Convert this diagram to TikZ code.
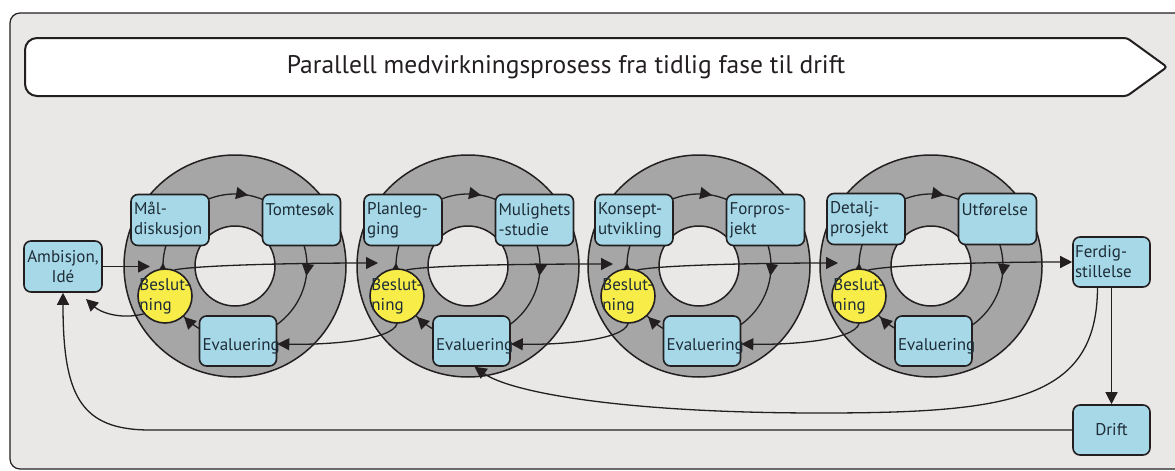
\documentclass[tikz,border=0pt]{standalone}
\usepackage{fontspec}
\setmainfont{PT Sans}
\usetikzlibrary{arrows.meta,decorations.markings,calc}
\definecolor{bg}{RGB}{233,232,231}
\definecolor{ringgray}{RGB}{166,166,166}
\definecolor{boxblue}{RGB}{166,216,232}
\definecolor{besyellow}{RGB}{247,236,72}
\definecolor{ink}{RGB}{35,31,32}
\definecolor{txt}{RGB}{30,45,55}
\newcommand\lblfont{\fontsize{17}{20}\selectfont}
\newcommand\titlefont{\fontsize{25.5}{30}\selectfont}
\begin{document}
\begin{tikzpicture}[x=1pt,y=1pt,
  tipA/.tip={Triangle[length=12pt,width=12pt]},
  box/.style={draw=ink, line width=1.6pt, fill=boxblue, rounded corners=7pt,
    minimum width=78pt, minimum height=51pt, inner xsep=3pt, inner ysep=0pt,
    text width=72pt, align=left, font=\lblfont, text=txt},
  cbox/.style={box, align=center},
  evalbox/.style={box, align=center, minimum width=77pt, text width=71pt,
    minimum height=50pt, text height=18pt, text depth=0pt},
  bes/.style={circle, draw=ink, line width=1.6pt, fill=besyellow,
    minimum size=54pt, inner sep=0pt},
  bestext/.style={font=\lblfont, text=txt, align=left, inner sep=0pt},
  arr/.style={draw=ink, line width=1.3pt, -{tipA}},
  cyc/.style={draw=ink, line width=1.3pt, postaction={decorate},
    decoration={markings,
      mark=at position 0.029 with {\arrow{tipA}},
      mark=at position 0.272 with {\arrow{tipA}},
      mark=at position 0.625 with {\arrow{tipA}},
      mark=at position 0.757 with {\arrow{tipA}}}},
  ringfill/.style={fill=ringgray, draw=ink, line width=1.5pt},
  holefill/.style={fill=bg, draw=ink, line width=1.5pt}
]
\useasboundingbox (0,0) rectangle (1175,-471);
\fill[white] (0,0) rectangle (1175,-471);
\clip (0,0) rectangle (1175,-471);
% frame
\draw[line width=1.2pt, draw=ink, fill=bg, rounded corners=10pt] (10,-13) rectangle (1195,-469);
% title banner
\draw[line width=2pt, draw=ink, fill=white]
  (1127,-38) [rounded corners=12pt]-- (25,-38) -- (25,-96) [rounded corners=3pt]-- (1127,-96)
  -- (1167,-67) -- cycle;
\node[font=\titlefont, text=ink] (title) at (566,-67) {Parallell medvirkningsprosess fra tidlig fase til drift};
% rings
\foreach \cx in {235,468,699,931}{
  \filldraw[ringfill] (\cx,-266) circle[radius=111];
  \filldraw[holefill] (\cx,-266) circle[radius=40];
  \draw[cyc] (\cx,-194) arc[start angle=90, end angle=-270, radius=72];
}
% ring 1
\node[box] (m1) at (170,-220) {Mål-\\diskusjon};
\node[box] (t1) at (301.5,-220) {Tomtesøk\\\mbox{}};
\node[evalbox] (e1) at (238,-341) {Evaluering};
\node[bes] (b1) at (165,-296) {};
\node[bestext] at (b1) {Beslut-\\ning};
% ring 2
\node[box] (m2) at (403,-220) {Planleg-\\ging};
\node[box] (t2) at (534.5,-220) {Mulighets\\-studie};
\node[evalbox] (e2) at (471.5,-341) {Evaluering};
\node[bes] (b2) at (397,-296) {};
\node[bestext] at (b2) {Beslut-\\ning};
% ring 3
\node[box] (m3) at (634,-220) {Konsept-\\utvikling};
\node[box] (t3) at (765.5,-220) {Forpros-\\jekt};
\node[evalbox] (e3) at (702,-341) {Evaluering};
\node[bes] (b3) at (628,-296) {};
\node[bestext] at (b3) {Beslut-\\ning};
% ring 4
\node[box] (m4) at (866,-219) {Detalj-\\prosjekt};
\node[box] (t4) at (997.5,-219) {Utførelse\\\mbox{}};
\node[evalbox] (e4) at (933.5,-341) {Evaluering};
\node[bes] (b4) at (859,-296) {};
\node[bestext] at (b4) {Beslut-\\ning};
% side boxes
\node[cbox] (a) at (63,-266.5) {Ambisjon,\\Idé};
\node[box, minimum width=77pt, text width=73pt, minimum height=50pt, inner xsep=2pt] (f) at (1111.5,-262) {Ferdig-\\stillelse};
\node[cbox, minimum width=77pt, text width=71pt, minimum height=50pt] (d) at (1111.5,-430) {Drift};
% free ends
\coordinate (in1) at (150,-266.5);
\coordinate (in2) at (378,-263);
\coordinate (in3) at (613,-264);
\coordinate (in4) at (838,-263);
\coordinate (back1) at (86,-299);
\coordinate (bend) at (150,-430);
% forward connectors
\draw[arr] (a.east) -- (in1);
\draw[arr] (b1.70) .. controls (200,-265) and (300,-263) .. (in2);
\draw[arr] (b2.70) .. controls (432,-265) and (532,-264) .. (in3);
\draw[arr] (b3.70) .. controls (663,-265) and (760,-263) .. (in4);
\draw[arr] (b4.70) .. controls (900,-264) and (1000,-262) .. (f.west);
% backward connectors
\draw[arr] (b1.220) .. controls (120,-320) and (100,-312) .. (back1);
\draw[arr] (b2.south) .. controls (392,-340) and (330,-345) .. ($(e1.east)+(0,-3)$);
\draw[arr] (b3.south) .. controls (623,-340) and (561,-345) .. ($(e2.east)+(0,-3)$);
\draw[arr] (b4.south) .. controls (854,-340) and (792,-345) .. ($(e3.east)+(0,-3)$);
\draw[arr] (f.south) -- (d.north);
\draw[arr] ($(f.south)+(-14,0)$) .. controls (1097,-400) and (1010,-413) .. (820,-413)
  .. controls (620,-413) and (510,-392) .. ($(e2.south)+(3,0)$);
\draw[arr] (d.west) -- (bend) .. controls (80,-430) and (63,-395) .. (a.south);
\end{tikzpicture}
\end{document}
